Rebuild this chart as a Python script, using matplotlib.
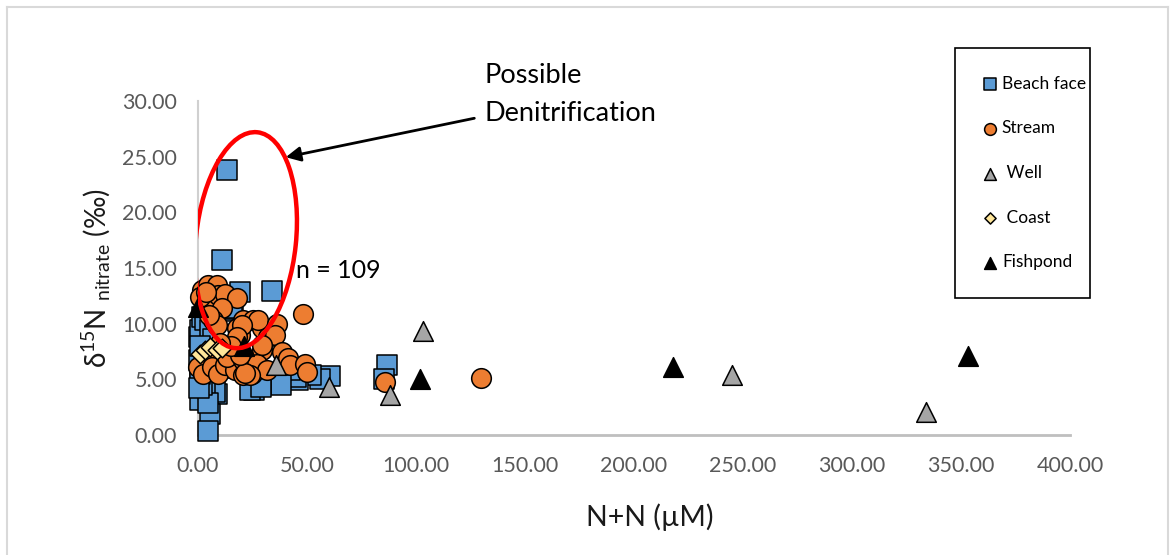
import matplotlib
matplotlib.use("Agg")
import matplotlib.pyplot as plt
from matplotlib.patches import Ellipse
from matplotlib.lines import Line2D

plt.rcParams['font.family'] = ['Lato', 'DejaVu Sans']
plt.rcParams['mathtext.fontset'] = 'custom'
plt.rcParams['mathtext.rm'] = 'Lato'
plt.rcParams['mathtext.it'] = 'Lato:italic'
plt.rcParams['mathtext.fallback'] = 'stixsans'

# N+N (uM) vs d15N nitrate (permil)
beach_x = [13.3, 10.9, 19.3, 33.8, 86.5, 85.5, 60.5, 56, 52, 46, 45, 42, 38, 25.5, 24,
           8.6, 7.8, 3.2, 0.9, 0.9, 5.5, 4.7, 4.5, 0.5, 0.5, 0.9, 1.7, 3.2, 5.5, 13.2,
           16, 15.5, 2, 1, 29, 12, 10, 7, 3, 1, 0.5]
beach_y = [23.8, 15.7, 12.8, 12.9, 6.3, 5.0, 5.3, 5.0, 5.4, 4.9, 5.2, 5.8, 4.5, 4.0, 4.0,
           3.7, 3.9, 4.0, 3.1, 4.9, 1.9, 2.9, 0.4, 6.7, 8.8, 9.4, 10.6, 10.3, 9.4, 11.1,
           11.3, 11.4, 4.5, 5.5, 4.3, 6.0, 7.5, 8.6, 7.0, 8.0, 4.2]

stream_x = [1.7, 4.7, 8.6, 3.2, 6.3, 9.3, 12.4, 17.7, 10.9, 7.0, 8.6, 20.8, 25.4, 17.7,
            19.3, 29.2, 32.3, 29.2, 3.2, 0.2, 2.4, 6.3, 9.3, 12.4, 17, 20.8, 24.6, 13.2,
            20.8, 26.9, 48.3, 27.7, 36.1, 20, 35.3, 17.7, 29.2, 38.4, 41.4, 42.2, 49,
            49.9, 31.5, 23.9, 21.6, 19.3, 86, 130, 1.0, 3.5, 15, 10, 5]
stream_y = [13.0, 13.5, 13.5, 12.4, 12.3, 12.6, 12.7, 12.3, 11.4, 10.3, 9.9, 10.3, 10.3,
            9.6, 9.0, 9.6, 8.8, 7.6, 7.0, 6.1, 5.5, 6.1, 5.5, 6.3, 5.8, 5.4, 5.5, 7.0,
            6.7, 6.4, 10.9, 10.3, 10.0, 9.9, 9.0, 8.8, 8.1, 7.5, 6.9, 6.3, 6.4, 5.7, 5.8,
            5.4, 5.6, 7.2, 4.8, 5.1, 12.4, 12.8, 8.0, 8.3, 10.8]

well_x = [103, 36, 60, 88, 245, 334]
well_y = [9.3, 6.3, 4.3, 3.6, 5.4, 2.1]

coast_x = [1, 3, 5.5, 8.7, 11]
coast_y = [7.3, 7.6, 7.9, 7.6, 7.8]

fish_x = [0, 21, 102, 218, 353]
fish_y = [11.5, 8.0, 5.0, 6.1, 7.1]

xticks = [0, 50, 100, 150, 200, 250, 300, 350, 400]
yticks = [0, 5, 10, 15, 20, 25, 30]

fig = plt.figure(figsize=(11.71, 5.55), dpi=100)
ax = fig.add_axes([198 / 1171, 120 / 555, 872 / 1171, 334 / 555])

ax.scatter(beach_x, beach_y, marker='s', s=200, c='#5B9BD5', edgecolors='black',
           linewidths=1.1, label='Beach face', clip_on=False, zorder=3)
ax.scatter(stream_x, stream_y, marker='o', s=200, c='#ED7D31', edgecolors='black',
           linewidths=1.1, label='Stream', clip_on=False, zorder=4)
ax.scatter(well_x, well_y, marker='^', s=200, c='#A5A5A5', edgecolors='black',
           linewidths=1.1, label=' Well', clip_on=False, zorder=5)
ax.scatter(coast_x, coast_y, marker='D', s=90, c='#FFE699', edgecolors='black',
           linewidths=1.1, label=' Coast', clip_on=False, zorder=6)
ax.scatter(fish_x, fish_y, marker='^', s=200, c='black', edgecolors='black',
           linewidths=1.1, label='Fishpond', clip_on=False, zorder=7)

ax.set_xlim(0, 400)
ax.set_ylim(0, 30)
ax.set_xticks(xticks)
ax.set_yticks(yticks)
ax.set_xticklabels(['%.2f' % v for v in xticks])
ax.set_yticklabels(['%.2f' % v for v in yticks])
ax.tick_params(length=0, labelsize=15.5, labelcolor='#595959')
ax.tick_params(axis='x', pad=15)
ax.tick_params(axis='y', pad=15)
for side in ['top', 'right']:
    ax.spines[side].set_visible(False)
ax.spines['left'].set_color('#D0D0D0')
ax.spines['left'].set_linewidth(1.5)
ax.spines['bottom'].set_color('#BFBFBF')
ax.spines['bottom'].set_linewidth(2)

ax.set_xlabel('N+N (µM)', fontsize=20.5, color='#1a1a1a', labelpad=20, x=0.518)
ax.set_ylabel(r'δ$^{15}$N $_{\mathrm{nitrate}}$ (‰)', fontsize=20,
              color='#1a1a1a', labelpad=7, y=0.47)

leg = fig.legend(loc='upper left', bbox_to_anchor=(955 / 1171, 0.4685, 135 / 1171, 0.445),
                 mode='expand', fontsize=12.5, markerscale=0.6, frameon=True, fancybox=False,
                 edgecolor='black', framealpha=1, labelspacing=1.65, borderpad=1.6,
                 handlelength=0.8, handletextpad=0.3, borderaxespad=0)
leg.get_frame().set_linewidth(1.2)

# annotation: ellipse, arrow and notes
cx, cy = ax.transData.transform((22, 17.5))
ax.add_patch(Ellipse((cx, cy), width=100, height=217, angle=-6, fill=False,
                     edgecolor='#FF0000', linewidth=3.2, transform=None, zorder=10))
ax.annotate('', xy=(39, 24.9), xytext=(128, 28.5), annotation_clip=False,
            arrowprops=dict(arrowstyle='-|>', color='black', lw=2, mutation_scale=22))
ax.text(131.5, 33.4, 'Possible\nDenitrification', fontsize=19.5, va='top', ha='left',
        linespacing=1.65, clip_on=False)
ax.text(45, 14.8, 'n = 109', fontsize=18, va='center', ha='left')

# light border around the chart area
for xs, ys in [([7, 7], [0, 548]), ([7, 1168], [548, 548]), ([1168, 1168], [0, 548])]:
    fig.add_artist(Line2D([v / 1171 for v in xs], [v / 555 for v in ys],
                          color='#D9D9D9', linewidth=1.5))

fig.savefig('out.png', dpi=100)
